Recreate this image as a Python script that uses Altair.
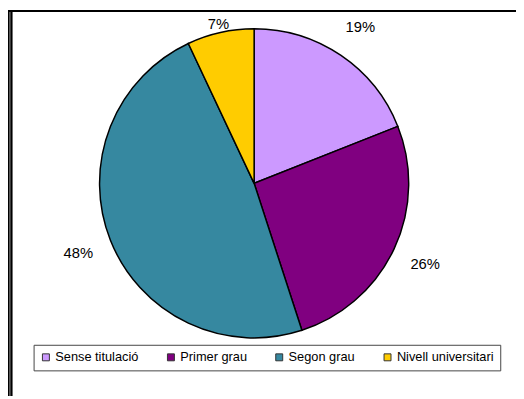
import altair as alt
import pandas as pd

categories = ["Sense titulació", "Primer grau", "Segon grau", "Nivell universitari"]
values = [19, 26, 48, 7]
labels = ["19%", "26%", "48%", "7%"]
colors = ["#CC99FF", "#800080", "#3688A0", "#FFCC00"]

df = pd.DataFrame({
    "cat": categories,
    "value": values,
    "label": labels,
    "idx": list(range(len(categories))),
})

base = alt.Chart(df)

pie = base.mark_arc(outerRadius=157, stroke="black", strokeWidth=1.5).encode(
    theta=alt.Theta("value:Q", stack=True),
    order=alt.Order("idx:Q"),
    color=alt.Color(
        "cat:N",
        scale=alt.Scale(domain=categories, range=colors),
        sort=categories,
        legend=alt.Legend(
            title=None,
            orient="none",
            legendX=26,
            legendY=339,
            direction="horizontal",
            symbolType="square",
            symbolSize=50,
            symbolStrokeColor="#333333",
            symbolStrokeWidth=1,
            labelFont="Liberation Sans",
            labelFontSize=13,
            labelColor="black",
            labelOffset=3,
            columnPadding=26,
            padding=6,
            strokeColor="#444444",
            fillColor="white",
        ),
    ),
)

text_big = base.mark_text(
    radius=192, font="Liberation Sans", fontSize=15, color="black"
).encode(
    theta=alt.Theta("value:Q", stack=True),
    order=alt.Order("idx:Q"),
    text="label:N",
    opacity=alt.condition("datum.value >= 10", alt.value(1), alt.value(0)),
)

text_small = base.mark_text(
    radius=166, font="Liberation Sans", fontSize=15, color="black"
).encode(
    theta=alt.Theta("value:Q", stack=True),
    order=alt.Order("idx:Q"),
    text="label:N",
    opacity=alt.condition("datum.value < 10", alt.value(1), alt.value(0)),
)

frame_top = base.mark_rule(color="black", strokeWidth=2).encode(
    x=alt.value(0), x2=alt.value(516), y=alt.value(0)
)
frame_left1 = base.mark_rule(color="black", strokeWidth=1.5).encode(
    x=alt.value(0.5), y=alt.value(0), y2=alt.value(391)
)
frame_left2 = base.mark_rule(color="black", strokeWidth=1.5).encode(
    x=alt.value(3.5), y=alt.value(0), y2=alt.value(391)
)

chart = (
    alt.layer(pie, text_big, text_small, frame_top, frame_left1, frame_left2)
    .properties(
        width=500,
        height=350,
        background="white",
        autosize=alt.AutoSizeParams(type="none"),
        padding={"left": 0, "top": 0, "right": 16, "bottom": 41},
    )
    .configure_view(stroke="transparent", strokeWidth=0)
)

chart.save("out.html", embed_options={"renderer": "svg", "actions": False})
